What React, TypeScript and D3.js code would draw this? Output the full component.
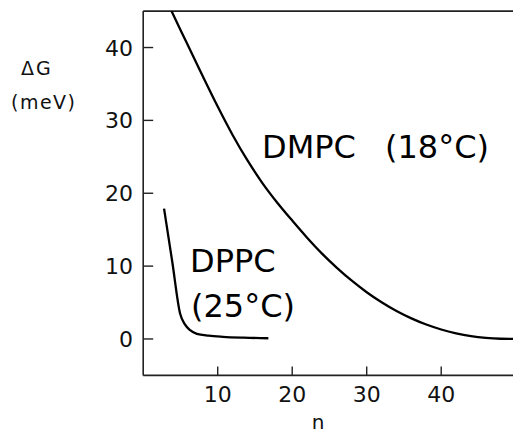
import React from "react";
import * as d3 from "d3";

const W = 513;
const H = 434;

const xTicks = [10, 20, 30, 40];
const yTicks = [0, 10, 20, 30, 40];

const dmpcN = [3.8, 6, 8, 10, 12, 14, 16, 18, 20, 22, 24, 26, 28, 30, 32, 34, 36, 38, 40, 42, 44, 46, 48, 50];
const dmpcG = [45, 40.3, 36.05, 31.9, 28.0, 24.5, 21.4, 18.7, 16.25, 13.9, 11.72, 9.77, 8.0, 6.42, 5.04, 3.84, 2.83, 1.98, 1.3, 0.78, 0.4, 0.16, 0.03, 0];

const dppcN = [2.8, 3.9, 4.95, 5.6, 6.3, 7.2, 8.8, 10.7, 13.5, 16.8];
const dppcG = [17.9, 10.6, 3.5, 2.0, 1.2, 0.7, 0.45, 0.3, 0.18, 0.1];

const FONT = "DejaVu Sans";

export default function App() {
  const x = d3.scaleLinear().domain([0, 50]).range([143.2, 515.7]);
  const y = d3.scaleLinear().domain([-5, 45]).range([375.4, 11.1]);

  const smooth = d3
    .line<[number, number]>()
    .x((d) => x(d[0]))
    .y((d) => y(d[1]))
    .curve(d3.curveCatmullRom.alpha(0.5));

  const mono = d3
    .line<[number, number]>()
    .x((d) => x(d[0]))
    .y((d) => y(d[1]))
    .curve(d3.curveMonotoneX);

  const dmpc = dmpcN.map((n, i) => [n, dmpcG[i]] as [number, number]);
  const dppc = dppcN.map((n, i) => [n, dppcG[i]] as [number, number]);

  const x0 = x(0);
  const yBottom = y(-5);
  const yTop = y(45);
  const axisColor = "#222";

  return (
    <svg
      width={W}
      height={H}
      style={{ position: "absolute", left: 0, top: 0, background: "#fff" }}
      fontFamily={FONT}
    >
      <rect x={0} y={0} width={W} height={H} fill="#fff" />
      {/* frame */}
      <line x1={x0} x2={W} y1={yTop} y2={yTop} stroke={axisColor} strokeWidth={1.6} />
      <line x1={x0} x2={x0} y1={yTop} y2={yBottom} stroke={axisColor} strokeWidth={1.6} />
      <line x1={x0} x2={W} y1={yBottom} y2={yBottom} stroke={axisColor} strokeWidth={1.6} />

      {/* y ticks */}
      {yTicks.map((t) => (
        <g key={"y" + t}>
          <line x1={x0} x2={x0 + 10} y1={y(t)} y2={y(t)} stroke={axisColor} strokeWidth={1.4} />
          <text x={133} y={y(t) + 8} textAnchor="end" fontSize={22} fill="#111">
            {t}
          </text>
        </g>
      ))}

      {/* x ticks */}
      {xTicks.map((t) => (
        <g key={"x" + t}>
          <line x1={x(t)} x2={x(t)} y1={yBottom} y2={yBottom - 9} stroke={axisColor} strokeWidth={1.4} />
          <text x={x(t)} y={402} textAnchor="middle" fontSize={22} fill="#111">
            {t}
          </text>
        </g>
      ))}

      {/* axis labels */}
      <text x={21} y={75} fontSize={19} letterSpacing={2} fill="#111">
        ΔG
      </text>
      <text x={11} y={109} fontSize={19} letterSpacing={1.5} fill="#111">
        (meV)
      </text>
      <text x={318} y={429} textAnchor="middle" fontSize={20} fill="#111">
        n
      </text>

      {/* curves */}
      <defs>
        <clipPath id="plot">
          <rect x={x0} y={yTop} width={W - x0} height={yBottom - yTop} />
        </clipPath>
      </defs>
      <g clipPath="url(#plot)">
        <path d={smooth(dmpc) || ""} fill="none" stroke="#000" strokeWidth={2.3} />
        <path d={mono(dppc) || ""} fill="none" stroke="#000" strokeWidth={2.3} />
      </g>

      {/* series labels */}
      <text x={262} y={158} fontSize={32} fill="#000">
        DMPC
      </text>
      <text x={385} y={158} fontSize={32} fill="#000">
        (18°C)
      </text>
      <text x={190} y={272} fontSize={32} fill="#000">
        DPPC
      </text>
      <text x={191} y={317} fontSize={32} fill="#000">
        (25°C)
      </text>
    </svg>
  );
}
